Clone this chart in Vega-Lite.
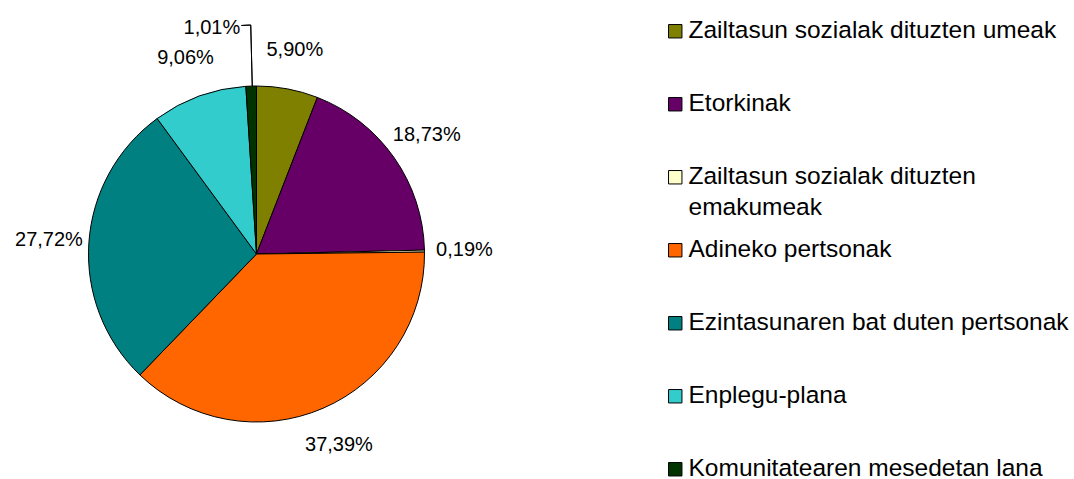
{
  "$schema": "https://vega.github.io/schema/vega-lite/v6.json",
  "width": 513,
  "height": 450,
  "autosize": {"type": "none"},
  "padding": {"left": 0, "top": 29, "right": 561, "bottom": 0},
  "background": "white",
  "config": {"view": {"stroke": null}, "font": "Liberation Sans"},
  "datasets": {
    "slices": [
      {"cat": "Zailtasun sozialak dituzten umeak", "value": 5.90, "label": "5,90%", "ord": 1},
      {"cat": "Etorkinak", "value": 18.73, "label": "18,73%", "ord": 2},
      {"cat": "Zailtasun sozialak dituzten emakumeak", "value": 0.19, "label": "0,19%", "ord": 3},
      {"cat": "Adineko pertsonak", "value": 37.39, "label": "37,39%", "ord": 4},
      {"cat": "Ezintasunaren bat duten pertsonak", "value": 27.72, "label": "27,72%", "ord": 5},
      {"cat": "Enplegu-plana", "value": 9.06, "label": "9,06%", "ord": 6},
      {"cat": "Komunitatearen mesedetan lana", "value": 1.01, "label": "1,01%", "ord": 7}
    ]
  },
  "layer": [
    {
      "data": {"name": "slices"},
      "mark": {"type": "arc", "radius": 168, "stroke": "black", "strokeWidth": 1},
      "encoding": {
        "theta": {"field": "value", "type": "quantitative", "stack": true, "scale": {"domain": [0, 100], "nice": false}},
        "order": {"field": "ord", "type": "quantitative"},
        "color": {
          "field": "cat",
          "type": "nominal",
          "scale": {
            "domain": ["Zailtasun sozialak dituzten umeak", "Etorkinak", "Zailtasun sozialak dituzten emakumeak", "Adineko pertsonak", "Ezintasunaren bat duten pertsonak", "Enplegu-plana", "Komunitatearen mesedetan lana"],
            "range": ["#808000", "#660066", "#FFFFCC", "#FF6600", "#008080", "#33CCCC", "#003300"]
          },
          "legend": {
            "orient": "none",
            "legendX": 663,
            "legendY": -10,
            "title": null,
            "padding": 0,
            "gridAlign": "all",
            "symbolType": "square",
            "symbolSize": 180,
            "symbolStrokeColor": "black",
            "symbolStrokeWidth": 1,
            "labelFontSize": 24.5,
            "labelFont": "Liberation Sans",
            "labelColor": "black",
            "labelLimit": 600,
            "labelOffset": 1,
            "rowPadding": 17,
            "labelExpr": "datum.label == 'Zailtasun sozialak dituzten emakumeak' ? ['Zailtasun sozialak dituzten', 'emakumeak'] : datum.label",
            "encode": {"labels": {"update": {"lineHeight": {"value": 31}}}}
          }
        }
      }
    },
    {
      "data": {"name": "slices"},
      "mark": {"type": "text", "radius": 208, "fontSize": 20, "font": "Liberation Sans", "color": "black"},
      "encoding": {
        "theta": {"field": "value", "type": "quantitative", "stack": true},
        "order": {"field": "ord", "type": "quantitative"},
        "text": {"field": "label", "type": "nominal", "condition": {"test": "datum.ord === 7", "value": ""}}
      }
    },
    {
      "data": {"name": "slices"},
      "mark": {"type": "text", "radius": 229, "fontSize": 20, "font": "Liberation Sans", "color": "black", "align": "right", "dx": -9, "dy": 3},
      "encoding": {
        "theta": {"field": "value", "type": "quantitative", "stack": true},
        "order": {"field": "ord", "type": "quantitative"},
        "text": {"field": "label", "type": "nominal", "condition": {"test": "datum.ord !== 7", "value": ""}}
      }
    },
    {
      "data": {"values": [{}]},
      "mark": {"type": "arc", "radius": 229, "radius2": 168, "filled": false, "stroke": "black", "strokeWidth": 1},
      "encoding": {
        "theta": {"datum": 99.6, "type": "quantitative"},
        "theta2": {"datum": 99.6}
      }
    },
    {
      "data": {"values": [{}]},
      "mark": {"type": "arc", "radius": 229, "radius2": 229, "filled": false, "stroke": "black", "strokeWidth": 1},
      "encoding": {
        "theta": {"datum": 98.95, "type": "quantitative"},
        "theta2": {"datum": 99.6}
      }
    }
  ]
}
